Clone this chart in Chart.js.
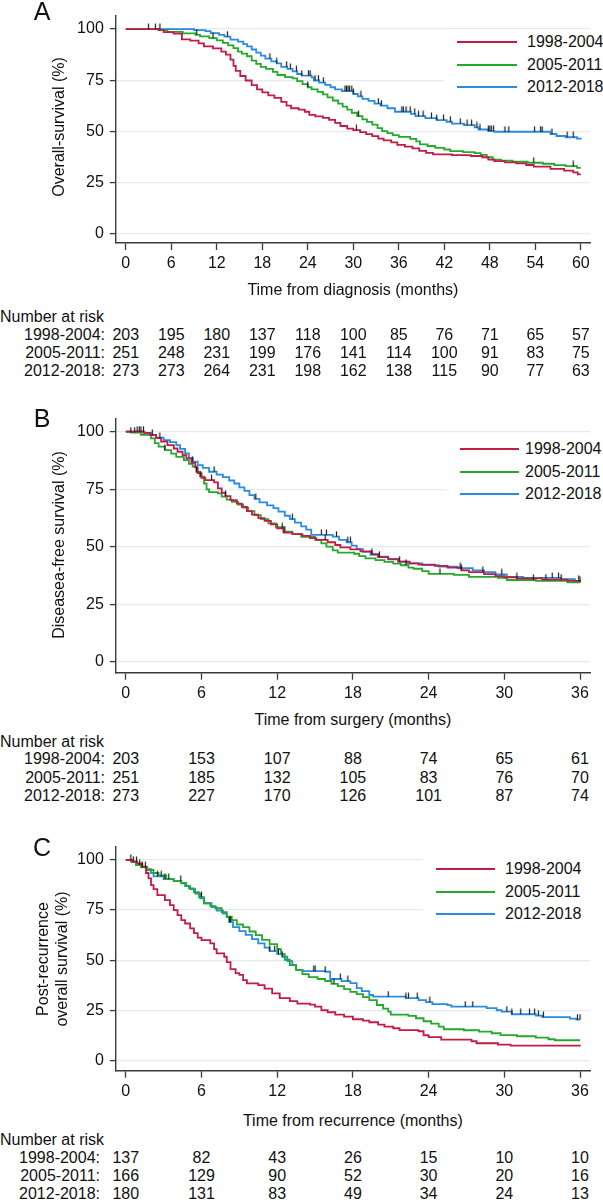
<!DOCTYPE html>
<html>
<head>
<meta charset="utf-8">
<script src="https://cdn.jsdelivr.net/npm/chart.js@4.4.1/dist/chart.umd.min.js"></script>
<style>
  body { margin: 0; background: #fff; }
  #page { position: relative; width: 603px; height: 1200px; overflow: hidden;
          font-family: "Liberation Sans", Arial, sans-serif; color: #111; }
  canvas { position: absolute; left: 0; }
  .t { position: absolute; white-space: nowrap; font-size: 16px; line-height: 1.15; }
  .box { position: absolute; background: #fff; }
  .key { position: absolute; height: 2px; }
</style>
</head>
<body>
<div id="page"></div>
<script>
const groups = ["1998-2004", "2005-2011", "2012-2018"];

// A: overall survival from diagnosis, [months, %]
const osKm9804 = [[0,100],[4.3,99.5],[5.0,98.5],[6.3,97.8],[7.4,95],[8.5,94.3],[9.6,93],[10.3,91.5],[11.5,90.5],[12.6,89],[13.2,87.5],[13.8,85],[14.2,82],[14.5,79.5],[15.1,77],[15.8,74.8],[16.6,72.5],[17.3,70.5],[18.0,69],[18.8,67.5],[19.6,66.3],[20.5,64.3],[21.2,62.5],[21.8,61.2],[22.8,60.5],[23.6,59.5],[24.2,58],[25.0,57.2],[26.0,56.5],[26.8,55.5],[27.6,54],[28.3,52.5],[29.2,51.2],[30.0,50.5],[30.9,49.5],[31.7,48.5],[32.5,47.5],[33.3,46.3],[34.0,45.5],[35.0,44.5],[35.8,43.3],[36.8,42.4],[37.8,41.5],[38.7,40.3],[39.6,39.3],[40.5,38.6],[43.0,38.2],[45.5,37.8],[47.0,37.2],[47.8,36],[48.6,35.3],[50.0,34.7],[51.5,34.2],[52.8,33.4],[53.8,32.6],[56.0,31.5],[57.8,30.6],[59.0,29.8],[59.6,28.8],[60,28.8]];
const osKm0511 = [[0,100],[4.5,99.5],[5.5,98.6],[7.5,97.9],[9.2,97.2],[9.8,96.4],[11.0,95.6],[12.0,94.5],[12.8,93.2],[13.5,92],[14.2,90.7],[14.8,89],[15.3,88],[16.0,86.7],[16.6,84.5],[17.2,83],[17.8,81.5],[18.5,80.5],[19.4,79],[20.0,77.5],[21.0,76.5],[22.0,75.8],[22.6,74.5],[23.3,73],[24.0,71.5],[24.5,70.5],[25.3,69.2],[26.0,68],[26.6,66.5],[27.3,65],[28.0,63.5],[28.6,62],[29.2,60.5],[29.8,59],[30.5,57.3],[31.2,55.8],[31.8,54.5],[32.5,53.2],[33.2,51.5],[33.8,50],[34.5,49],[35.2,48],[36.0,47.2],[37.5,46.2],[38.3,45],[38.8,43.5],[39.8,42.7],[40.8,41.8],[42.0,41],[42.8,40.2],[44.5,39.7],[46.0,39.2],[46.8,38.4],[47.6,37.2],[48.4,36],[49.5,35.5],[51.0,35],[53.0,34.5],[55.0,34],[56.5,33.3],[58.0,32.8],[59.5,32],[60,32]];
const osKm1218 = [[0,100],[9.0,99.5],[10.5,99],[11.2,98],[12.3,97.2],[13.0,96.3],[13.8,94.8],[14.8,93.9],[15.5,92.6],[16.0,91.5],[16.6,90],[17.2,88.5],[17.8,87],[18.4,85.5],[19.2,84.2],[19.9,83.2],[20.5,81.5],[21.3,80.5],[22.0,79.3],[22.6,78],[23.2,77.2],[24.5,76.3],[24.8,74.8],[25.5,73.8],[26.3,72.7],[27.0,71.5],[27.6,70.5],[28.5,69.6],[30.0,68.2],[30.6,67],[31.2,65.8],[32.0,64.8],[32.8,63.5],[33.6,62.5],[34.5,61.2],[35.5,59.5],[37.6,58.5],[38.2,57.3],[39.5,56.4],[41.0,55.4],[42.3,54.6],[43.0,53.7],[44.6,52.9],[46.0,51.8],[46.5,50.8],[47.8,50],[48.6,49.7],[56.0,48.6],[56.8,47.6],[58.0,47],[59.5,46.3],[60,46]];
const osCens9804 = [30.4];
const osCens0511 = [9.35, 11.5, 24.0, 30.7, 53.8, 59.0];
const osCens1218 = [3.0, 3.9, 4.5, 13.4, 19.0, 19.9, 21.2, 21.7, 22.5, 23.2, 24.1, 24.3, 24.95, 25.4, 26.05, 28.9, 29.1, 29.3, 29.5, 29.8, 30.0, 31.0, 33.3, 33.7, 36.4, 36.6, 36.95, 37.5, 38.1, 38.6, 39.2, 40.3, 41.0, 41.9, 42.8, 44.1, 45.0, 45.6, 46.3, 46.7, 47.8, 48.0, 48.2, 48.5, 50.0, 50.5, 53.9, 54.7, 54.9, 56.2, 58.2, 59.0];
const osTicks = [0, 6, 12, 18, 24, 30, 36, 42, 48, 54, 60];
const osRisk9804 = [203, 195, 180, 137, 118, 100, 85, 76, 71, 65, 57];
const osRisk0511 = [251, 248, 231, 199, 176, 141, 114, 100, 91, 83, 75];
const osRisk1218 = [273, 273, 264, 231, 198, 162, 138, 115, 90, 77, 63];

// B: disease-free survival from surgery
const dfsKm9804 = [[0,100],[1.4,99.5],[1.9,98.6],[2.4,97.2],[2.8,95.7],[3.3,94.2],[3.8,92.7],[4.1,91.3],[4.5,89.8],[4.8,88.4],[5.2,86.5],[5.5,84.5],[5.7,82],[6.0,80],[6.3,79],[7.0,78],[7.3,75.4],[7.6,73.5],[7.9,72],[8.3,70.3],[8.8,68.8],[9.2,67.4],[9.6,65.5],[10.0,64],[10.5,62.5],[11.0,61.3],[11.5,59.8],[12.0,58],[12.5,56.2],[13.2,55.5],[14.0,54.8],[14.6,53.8],[15.1,53],[16.0,52],[16.6,50.8],[17.0,49.8],[17.8,48.9],[18.6,48],[19.5,46.8],[20.0,45.5],[20.8,44.6],[21.6,43.6],[22.5,42.8],[23.2,42.3],[24.5,41.7],[25.5,41],[26.6,39.8],[27.2,39],[28.4,38.2],[29.3,37.3],[30.0,36.8],[31.0,36.3],[33.0,35.8],[35.0,35.2],[36,35]];
const dfsKm0511 = [[0,100],[0.4,99.6],[1.2,98.6],[2.0,97.1],[2.3,95],[2.6,93.5],[3.1,92],[3.6,90.5],[4.0,89.1],[4.6,87.7],[5.0,86],[5.3,84.8],[5.6,82.5],[5.9,80.5],[6.2,77.5],[6.4,75],[6.6,73.8],[7.3,73.2],[7.6,71.8],[8.0,70.5],[8.4,69.5],[8.9,68.3],[9.3,67],[9.7,65.5],[10.2,63.8],[10.7,62],[11.3,60.2],[11.9,58.5],[12.5,56.6],[13.2,55.5],[13.9,54.3],[15.0,53],[15.5,51.5],[15.9,50.1],[16.4,48.5],[16.8,47.5],[18.1,47],[18.5,46],[19.0,45],[19.8,44.2],[20.5,43.5],[21.2,42.7],[21.8,42],[22.4,41],[22.8,40.5],[23.5,39.5],[24.0,38.3],[26.0,37.8],[27.2,37],[29.5,36.5],[30.2,35.6],[32.5,35.2],[35.0,34.6],[36,34.4]];
const dfsKm1218 = [[0,100],[1.5,99.5],[2.0,98.5],[2.4,97.4],[3.0,96.3],[3.5,95.5],[4.0,94.2],[4.3,92.5],[4.7,90.6],[5.0,88.5],[5.3,87],[5.7,85.5],[6.1,84.3],[6.6,82.6],[7.2,81.4],[7.7,80.3],[8.2,78.8],[8.6,77.5],[9.0,75.8],[9.4,74.3],[9.8,72.5],[10.2,70.8],[10.6,69.3],[11.2,68],[11.7,66.8],[12.1,65.3],[12.6,63.5],[13.0,62],[13.4,60.5],[13.9,58.9],[14.3,57.5],[14.7,55.2],[16.4,54.4],[16.9,53],[17.5,52],[17.9,50.5],[18.3,49],[18.8,47.8],[19.4,46.5],[20.0,45.7],[20.8,44.8],[21.6,43.6],[22.3,42.8],[23.5,42.1],[24.8,41.4],[26.3,40.7],[27.5,39.8],[28.4,39],[29.3,38],[30.2,37],[31.5,36.5],[34.5,36],[35.6,35],[36,34.9]];
const dfsCens9804 = [1.2, 2.1, 2.7, 6.8, 7.9, 12.4, 15.8, 19.5, 21.7, 26.6, 28.3, 31.0, 33.3, 34.5, 35.9];
const dfsCens0511 = [0.4, 0.7, 3.1, 5.6, 5.9, 12.6, 22.2, 24.9, 32.3];
const dfsCens1218 = [0.9, 1.07, 1.4, 5.3, 7.0, 10.3, 13.2, 15.5, 15.9, 16.7, 17.6, 17.8, 20.1, 26.5, 29.8, 33.8, 34.3, 36.0];
const dfsTicks = [0, 6, 12, 18, 24, 30, 36];
const dfsRisk9804 = [203, 153, 107, 88, 74, 65, 61];
const dfsRisk0511 = [251, 185, 132, 105, 83, 76, 70];
const dfsRisk1218 = [273, 227, 170, 126, 101, 87, 74];

// C: overall survival after recurrence
const prKm9804 = [[0,100],[0.5,99.2],[0.9,98.3],[1.3,96.7],[1.6,93.5],[1.8,90.8],[2.0,87.5],[2.2,85.5],[2.5,82.5],[3.1,80],[3.5,77.5],[3.8,75],[4.1,72.5],[4.4,70],[4.7,68.3],[5.1,65.9],[5.4,63.5],[5.7,61.2],[6.0,60],[6.7,58.4],[7.0,55.5],[7.2,53.4],[7.8,51.7],[8.0,49],[8.3,45.5],[8.7,43.5],[9.0,42.6],[9.3,40],[9.6,38.4],[10.5,37.5],[11.0,35.8],[11.6,33.4],[12.2,31],[13.0,29.5],[13.6,28.3],[14.6,27.8],[15.0,26.8],[15.5,25],[16.0,24],[16.6,22.8],[17.3,21.8],[18.0,20.5],[18.8,19.8],[19.3,19],[20.0,17.8],[20.5,16.8],[21.2,16],[21.7,15.1],[23.2,14.5],[23.6,12.5],[24.0,11.6],[25.0,10.3],[27.4,9.5],[27.8,8.5],[29.5,7.8],[30.5,7.3],[36,7.1]];
const prKm0511 = [[0,100],[0.4,99.2],[0.8,97.5],[1.2,96.5],[1.7,95],[2.2,93.5],[2.6,92.3],[3.2,90.5],[3.8,89.5],[4.4,88.4],[4.8,87],[5.1,85.5],[5.5,83.2],[5.9,80.8],[6.2,78.4],[6.7,77],[7.1,75.9],[7.6,74],[8.0,71.7],[8.4,70],[8.8,67.8],[9.3,66.5],[9.8,64.3],[10.3,62.5],[10.8,60.1],[11.4,58],[12.0,55.5],[12.3,53],[12.6,50.2],[13.0,47.5],[13.5,45.1],[14.0,43],[14.5,41.5],[15.2,40.6],[15.8,39.6],[16.3,38.2],[16.8,37],[17.3,35.5],[17.8,34.2],[18.3,33],[18.8,31.5],[19.3,30],[19.9,27.6],[20.4,25.8],[20.8,24.3],[21.0,22.8],[22.4,22.2],[23.0,21],[23.6,19.5],[24.2,18.3],[24.8,16.8],[25.2,15.5],[26.8,15],[28.0,14.3],[29.0,13.5],[29.7,12.6],[31.0,12],[32.5,11.3],[33.5,10.5],[34.0,10],[36,10]];
const prKm1218 = [[0,100],[0.5,99],[0.9,97.5],[1.3,96.3],[1.6,95.4],[2.0,93.5],[2.2,91.8],[3.0,90.5],[3.8,89.5],[4.4,88.6],[4.7,87],[5.0,85.8],[5.4,84],[5.8,81.5],[6.2,78.4],[6.8,76.5],[7.2,74.8],[7.7,73.2],[8.0,71.5],[8.2,69],[8.5,66.5],[9.0,64.5],[9.5,62.6],[10.0,60.5],[10.5,58.4],[11.0,56.3],[11.4,54.5],[12.0,53],[12.4,51.7],[12.8,49.5],[13.2,47.5],[13.5,45.1],[14.0,44.5],[15.8,44.2],[16.2,40.6],[17.1,39.5],[17.8,38.5],[18.3,36],[18.7,34.5],[19.3,32.6],[19.6,31.8],[22.2,31],[23.2,30],[23.8,29],[24.3,28],[25.5,27.5],[25.8,26.8],[28.6,26],[29.4,25],[29.8,24.3],[30.6,23],[32.5,22.3],[33.0,21.6],[35.2,20.8],[35.7,20.3],[36,20.3]];
const prCens9804 = [];
const prCens0511 = [0.6, 1.1, 16.5];
const prCens1218 = [0.4, 0.85, 1.3, 1.55, 2.5, 2.8, 3.1, 3.4, 4.36, 6.0, 8.2, 8.3, 11.4, 11.8, 12.1, 12.4, 14.9, 15.0, 15.8, 17.0, 17.6, 20.8, 22.2, 22.4, 23.1, 24.1, 26.9, 27.5, 30.2, 30.6, 31.3, 32.0, 32.4, 32.7, 33.1, 35.8, 36.0];
const prTicks = [0, 6, 12, 18, 24, 30, 36];
const prRisk9804 = [137, 82, 43, 26, 15, 10, 10];
const prRisk0511 = [166, 129, 90, 52, 30, 20, 16];
const prRisk1218 = [180, 131, 83, 49, 34, 24, 13];

const lineColors = ["#c21c46", "#25a82c", "#2b8be0"];
const axisColor = "#3a3a3a";
const gridColor = "#e3eaf0";
const page = document.getElementById("page");

Chart.defaults.font.family = '"Liberation Sans", Arial, sans-serif';
Chart.defaults.font.size = 16;
Chart.defaults.color = "#111";

// censoring tick: short vertical stroke sitting on top of the curve
const censorMark = document.createElement("canvas");
censorMark.width = 3;
censorMark.height = 12;
const cg = censorMark.getContext("2d");
cg.strokeStyle = "#1a1a1a";
cg.lineWidth = 1.2;
cg.beginPath(); cg.moveTo(1.5, 0.5); cg.lineTo(1.5, 6); cg.stroke();

function survAt(curve, t) {
  let s = curve[0][1];
  for (const [x, y] of curve) { if (x <= t) s = y; }
  return s;
}

function text(str, x, y, align, extra) {
  const d = document.createElement("div");
  d.className = "t";
  d.textContent = str;
  d.style.left = x + "px";
  d.style.top = y + "px";
  const tx = align === "left" ? "0" : align === "right" ? "-100%" : "-50%";
  d.style.transform = "translate(" + tx + ",-50%)" + (extra || "");
  page.appendChild(d);
  return d;
}

function buildPanel(p) {
  const cv = document.createElement("canvas");
  cv.width = 603;
  cv.height = p.canvasH;
  cv.style.top = p.top + "px";
  page.appendChild(cv);

  const pxX = (p.xLastPx - p.xZeroPx) / p.xLast;
  const pxY = (p.yZeroPx - p.yHundredPx) / 100;

  const datasets = [];
  p.curves.forEach((c, i) => datasets.push({
    label: groups[i],
    data: c.map(([x, y]) => ({ x, y })),
    borderColor: lineColors[i],
    borderWidth: 1.8,
    stepped: true,
    pointRadius: 0,
    order: 2
  }));
  p.censors.forEach((c, i) => datasets.push({
    label: groups[i] + " censored",
    data: c.map(t => ({ x: t, y: survAt(p.curves[i], t) })),
    showLine: false,
    pointStyle: censorMark,
    pointRadius: 5,
    order: 1
  }));

  const chart = new Chart(cv, {
    type: "line",
    data: { datasets },
    options: {
      responsive: false,
      animation: false,
      events: [],
      layout: { padding: { top: p.areaTop - p.top, right: 603 - p.areaRight, left: 0, bottom: 0 } },
      plugins: { legend: { display: false }, tooltip: { enabled: false } },
      scales: {
        x: {
          type: "linear",
          min: -(p.xZeroPx - p.areaLeft) / pxX,
          max: p.xLast + (p.areaRight - p.xLastPx) / pxX,
          afterFit: s => { s.height = p.top + p.canvasH - p.areaBottom; },
          afterBuildTicks: s => { s.ticks = p.xTicks.map(v => ({ value: v })); },
          grid: { drawOnChartArea: false, tickLength: 7, tickColor: axisColor, tickWidth: 1.3 },
          border: { color: axisColor, width: 1.4 },
          ticks: { padding: 4, maxRotation: 0, autoSkip: false }
        },
        y: {
          type: "linear",
          min: -(p.areaBottom - p.yZeroPx) / pxY,
          max: 100 + (p.yHundredPx - p.areaTop) / pxY,
          afterFit: s => { s.width = p.areaLeft; },
          afterBuildTicks: s => { s.ticks = [0, 25, 50, 75, 100].map(v => ({ value: v })); },
          grid: { color: gridColor, lineWidth: 1.2, tickLength: 6, tickColor: axisColor, tickWidth: 1.3 },
          border: { color: axisColor, width: 1.4 },
          ticks: { padding: 6 }
        }
      }
    }
  });

  // legend sits on a white box over the gridlines
  const box = document.createElement("div");
  box.className = "box";
  box.style.left = (p.keyX - 13) + "px";
  box.style.top = (p.keyRows[0] - 13) + "px";
  box.style.width = (603 - p.keyX + 13) + "px";
  box.style.height = (p.keyRows[2] - p.keyRows[0] + 26) + "px";
  page.appendChild(box);
  groups.forEach((g, i) => {
    const k = document.createElement("div");
    k.className = "key";
    k.style.left = p.keyX + "px";
    k.style.width = p.keyW + "px";
    k.style.top = (p.keyRows[i] - 1) + "px";
    k.style.background = lineColors[i];
    page.appendChild(k);
    text(g, p.keyTextX, p.keyRows[i], "left");
  });

  // panel letter and axis titles
  const letter = text(p.letter, 42, p.letterY, "center");
  letter.style.fontSize = "25px";
  text(p.xTitle, (p.areaLeft + p.areaRight) / 2, p.xTitleY, "center");
  p.yTitle.forEach((line, i) => text(line, p.yTitleX[i], p.yTitleY, "center", " rotate(-90deg)"));

  // number at risk table, aligned on the x ticks
  text("Number at risk", 0, p.riskRows[0], "left");
  p.risk.forEach((row, i) => {
    text(groups[i] + ":", p.riskLabelRight, p.riskRows[i + 1], "right");
    row.forEach((n, j) => text(String(n), chart.scales.x.getPixelForValue(p.xTicks[j]), p.riskRows[i + 1], "center"));
  });
}

buildPanel({
  letter: "A", letterY: 11, top: 0, canvasH: 285,
  areaLeft: 115.8, areaRight: 590, areaTop: 12, areaBottom: 243,
  xZeroPx: 125.8, xLastPx: 580.8, xLast: 60, yZeroPx: 233, yHundredPx: 25.7,
  xTicks: osTicks,
  curves: [osKm9804, osKm0511, osKm1218],
  censors: [osCens9804, osCens0511, osCens1218],
  risk: [osRisk9804, osRisk0511, osRisk1218],
  keyX: 456.7, keyW: 60, keyTextX: 527, keyRows: [42.3, 65, 87.3],
  xTitle: "Time from diagnosis (months)", xTitleY: 290,
  yTitle: ["Overall-survival (%)"], yTitleX: [58.5], yTitleY: 127,
  riskRows: [316.7, 334.5, 352.5, 370.5], riskLabelRight: 105
});

buildPanel({
  letter: "B", letterY: 418, top: 400, canvasH: 310,
  areaLeft: 115.8, areaRight: 590, areaTop: 418.3, areaBottom: 672.7,
  xZeroPx: 125.8, xLastPx: 580, xLast: 36, yZeroPx: 662, yHundredPx: 431.7,
  xTicks: dfsTicks,
  curves: [dfsKm9804, dfsKm0511, dfsKm1218],
  censors: [dfsCens9804, dfsCens0511, dfsCens1218],
  risk: [dfsRisk9804, dfsRisk0511, dfsRisk1218],
  keyX: 460, keyW: 59, keyTextX: 525, keyRows: [449, 472, 494.3],
  xTitle: "Time from surgery (months)", xTitleY: 720,
  yTitle: ["Diseasea-free survival (%)"], yTitleX: [58.5], yTitleY: 545,
  riskRows: [741.7, 759.3, 777.7, 796], riskLabelRight: 105
});

buildPanel({
  letter: "C", letterY: 847, top: 830, canvasH: 280,
  areaLeft: 115.8, areaRight: 590, areaTop: 846.7, areaBottom: 1070.7,
  xZeroPx: 125.8, xLastPx: 580, xLast: 36, yZeroPx: 1060.3, yHundredPx: 860,
  xTicks: prTicks,
  curves: [prKm9804, prKm0511, prKm1218],
  censors: [prCens9804, prCens0511, prCens1218],
  risk: [prRisk9804, prRisk0511, prRisk1218],
  keyX: 435.8, keyW: 59, keyTextX: 505, keyRows: [869, 891.7, 914],
  xTitle: "Time from recurrence (months)", xTitleY: 1120.7,
  yTitle: ["Post-recurrence", "overall survival (%)"], yTitleX: [43, 61.5], yTitleY: 959,
  riskRows: [1140, 1157.5, 1176, 1194], riskLabelRight: 100
});
</script>
</body>
</html>
